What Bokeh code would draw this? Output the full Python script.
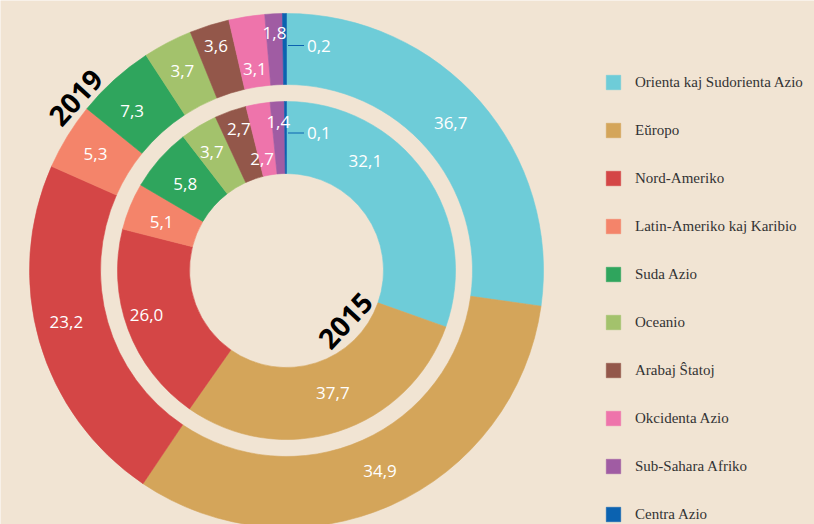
import numpy as np
from bokeh.plotting import figure
from bokeh.models import ColumnDataSource, Range1d, Legend, LegendItem
from bokeh.core.properties import value
from bokeh.embed import file_html
from bokeh.resources import INLINE

# ---------------- data ----------------
regions = ["Orienta kaj Sudorienta Azio", "Eŭropo", "Nord-Ameriko",
           "Latin-Ameriko kaj Karibio", "Suda Azio", "Oceanio",
           "Arabaj Ŝtatoj", "Okcidenta Azio", "Sub-Sahara Afriko", "Centra Azio"]
colors = ["#6ECCD8", "#D4A55A", "#D44646", "#F4846A", "#2FA55D",
          "#A3C26C", "#93574A", "#EE74AB", "#A05CA3", "#0B62B0"]

# printed values (labels)
value_2019 = [36.7, 34.9, 23.2, 5.3, 7.3, 3.7, 3.6, 3.1, 1.8, 0.2]
value_2015 = [32.1, 37.7, 26.0, 5.1, 5.8, 3.7, 2.7, 2.7, 1.4, 0.1]
# slice sizes as drawn in the picture (percent of the ring)
share_2019 = [27.2, 32.2, 22.2, 4.2, 4.95, 3.1, 2.5, 2.25, 1.1, 0.25]
share_2015 = [30.4, 29.3, 19.2, 4.5, 6.1, 3.55, 3.05, 2.3, 1.35, 0.2]

# ---------------- layout / style ----------------
BG = "#F1E4D3"
W, H = 814, 524
CX, CY = 286, 254
OUT_R = (186, 257)
IN_R = (97, 169)

# label placement tweaks (radius, angle nudge in degrees)
out_lab_r = [221, 221, 226, 224, 222, 225, 235, 204, 238, 225]
out_lab_da = [1, 1, -3, 0, 2, 0, 0, 0, 0, 0]
in_lab_r = [135, 131, 147, 134, 133, 140, 149, 114, 149, 137.5]
in_lab_da = [19, 3, -2.6, 1, 1, 1, -0.7, 2.6, 0, 0]

p = figure(width=W, height=H, output_backend="svg", toolbar_location=None,
           x_range=Range1d(0, W), y_range=Range1d(0, H),
           min_border=0, outline_line_color=None)
p.axis.visible = False
p.xgrid.visible = False
p.ygrid.visible = False
p.background_fill_color = BG
p.border_fill_color = BG


def fmt(v):
    return f"{v:.1f}".replace(".", ",")


def ring(shares, vals, radii, lab_r, lab_da):
    s = np.array(shares, dtype=float)
    deg = s / s.sum() * 360.0
    cum = np.concatenate([[0], np.cumsum(deg)])
    start = 90 - cum[:-1]
    end = 90 - cum[1:]
    src = ColumnDataSource(dict(start=np.radians(start), end=np.radians(end),
                                color=colors, name=regions))
    r = p.annular_wedge(x=CX, y=CY, inner_radius=radii[0], outer_radius=radii[1],
                        start_angle="start", end_angle="end", direction="clock",
                        fill_color="color", line_color="color", line_width=0.6,
                        source=src)
    mid = (start + end) / 2 + np.array(lab_da)
    lr = np.array(lab_r, dtype=float)
    lx = CX + lr * np.cos(np.radians(mid))
    ly = CY + lr * np.sin(np.radians(mid))
    n = len(vals)
    texts = [fmt(v) for v in vals]
    # regular labels
    p.text(x=list(lx[:n - 1]), y=list(ly[:n - 1]), text=texts[:n - 1],
           text_color="white", text_font=value("Open Sans"), text_font_size="17px",
           text_align="center", text_baseline="middle")
    # smallest slice: leader line + label
    bx, by = CX + 1.5, ly[-1]
    p.segment(x0=[bx], y0=[by], x1=[bx + 16], y1=[by], line_color=colors[-1], line_width=1)
    p.text(x=[bx + 19], y=[by], text=[texts[-1]], text_color="white",
           text_font=value("Open Sans"), text_font_size="17px",
           text_align="left", text_baseline="middle")
    return r


r_out = ring(share_2019, value_2019, OUT_R, out_lab_r, out_lab_da)
r_in = ring(share_2015, value_2015, IN_R, in_lab_r, in_lab_da)

# year labels
def polar(r, a):
    return CX + r * np.cos(np.radians(a)), CY + r * np.sin(np.radians(a))

x19, y19 = polar(273, 140.6)
x15, y15 = polar(77, -40.3)
p.text(x=[x19, x15], y=[y19, y15], text=["2019", "2015"], angle=[np.radians(47.5), np.radians(47)],
       text_color="black", text_font=value("Open Sans"), text_font_style="bold",
       text_font_size="28px", text_align="center", text_baseline="middle")

items = [LegendItem(label=regions[i], renderers=[r_out], index=i) for i in range(len(regions))]
legend = Legend(items=items, location=(604, 1), orientation="vertical",
                glyph_width=18, glyph_height=18, label_height=18, spacing=30,
                label_standoff=13, padding=0, margin=0,
                border_line_color=None, background_fill_alpha=0,
                label_text_font="Liberation Serif", label_text_font_size="15px",
                label_text_color="#333333")
p.add_layout(legend)

html = file_html(p, INLINE)
html = html.replace("<body>", '<body style="background-color:%s;">' % BG, 1)
open("out.html", "w").write(html)
